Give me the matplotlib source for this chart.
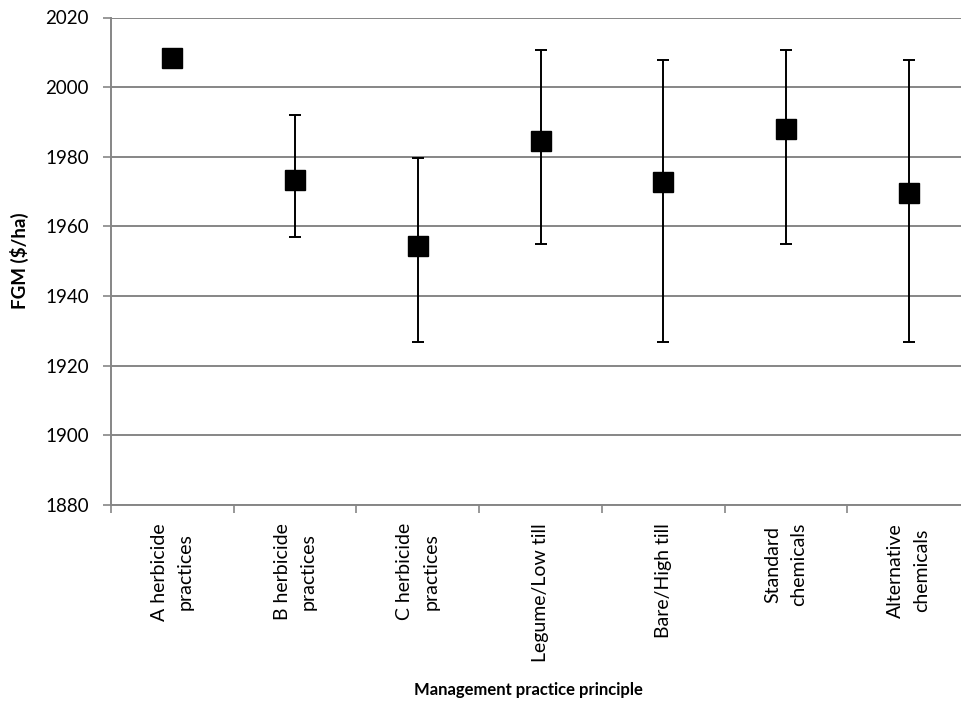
import numpy as np
import matplotlib
matplotlib.use("Agg")
from matplotlib import pyplot as plt

plt.rcParams["font.family"] = ["Lato", "DejaVu Sans"]

# FGM per management practice principle, with upper/lower error bar ends
practices = ["A herbicide\npractices", "B herbicide\npractices", "C herbicide\npractices",
             "Legume/Low till", "Bare/High till", "Standard\nchemicals", "Alternative\nchemicals"]
fgm = [2008.3, 1973.2, 1954.5, 1984.6, 1972.7, 1988.0, 1969.7]
fgm_high = [2008.3, 1991.9, 1979.6, 2010.7, 2007.7, 2010.7, 2007.7]
fgm_low = [2008.3, 1956.9, 1926.8, 1955.0, 1926.8, 1955.0, 1926.8]
yticks = [1880, 1900, 1920, 1940, 1960, 1980, 2000, 2020]

grey = "#868686"

fig = plt.figure(figsize=(9.61, 7.10), dpi=100)
# plot area runs a little past the right edge of the figure
ax = fig.add_axes([111 / 961, 1 - 505 / 710, 859 / 961, 487.5 / 710])

x = np.arange(len(practices))
yerr = [np.array(fgm) - np.array(fgm_low), np.array(fgm_high) - np.array(fgm)]
ax.errorbar(x, fgm, yerr=yerr, fmt="none", ecolor="black", elinewidth=1.4,
            capsize=4.5, capthick=1.4, zorder=3)
ax.plot(x, fgm, "s", color="black", markersize=14, zorder=4, linestyle="none")

ax.set_xlim(-0.5, len(practices) - 0.5)
ax.set_ylim(1880, 2020)
ax.set_yticks(yticks)
ax.yaxis.grid(True, color=grey, linewidth=1.4)
ax.set_axisbelow(True)
ax.tick_params(axis="y", direction="out", length=6, width=1.2, color=grey,
               labelsize=13.5, pad=10, labelcolor="black")

# category ticks sit on the boundaries between practices
ax.set_xticks(np.arange(-0.5, len(practices), 1.0))
ax.set_xticklabels([])
ax.tick_params(axis="x", direction="out", length=6, width=1.2, color=grey)
for xi, lab in zip(x, practices):
    ax.text(xi, 1880 - 5.2, lab, rotation=90, ha="center", va="top",
            multialignment="center", fontsize=14, linespacing=1.65,
            transform=ax.transData)

for side in ["top", "right"]:
    ax.spines[side].set_visible(False)
for side in ["left", "bottom"]:
    ax.spines[side].set_color(grey)
    ax.spines[side].set_linewidth(1.4)

fig.text(19 / 961, 1 - 261 / 710, "FGM ($/ha)", rotation=90, ha="center", va="center",
         fontsize=13.5, fontweight="bold")
fig.text(528 / 961, 1 - 690 / 710, "Management practice principle", ha="center",
         va="center", fontsize=12, fontweight="bold")

fig.savefig("out.png", dpi=100)
